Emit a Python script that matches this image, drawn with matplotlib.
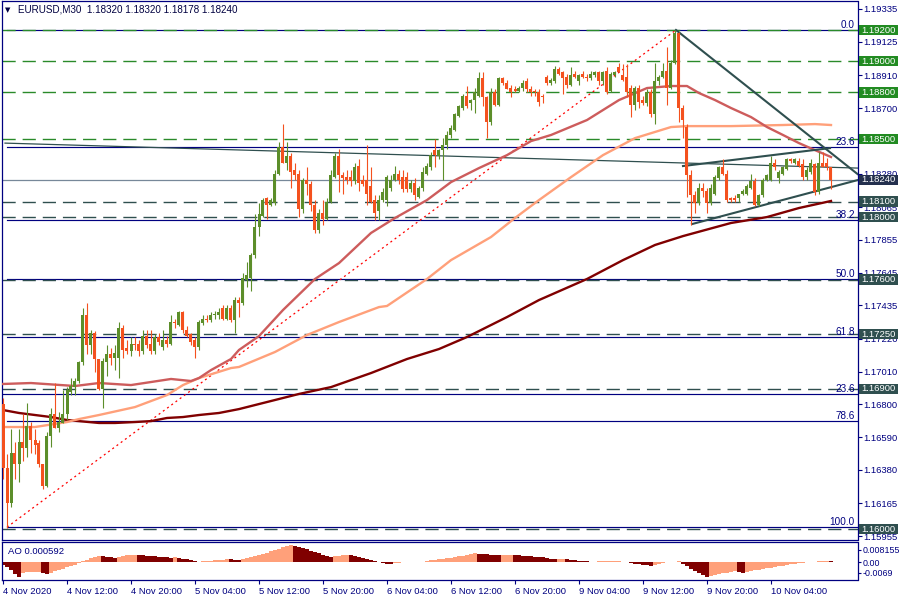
import matplotlib
matplotlib.use("Agg")
import matplotlib.pyplot as plt
import matplotlib.patches as mpatches
from matplotlib.transforms import blended_transform_factory
import numpy as np

plt.rcParams['font.family'] = ['Liberation Sans', 'DejaVu Sans']

# ---------------- data ----------------
title = "EURUSD,M30  1.18320 1.18320 1.18178 1.18240"

opens = [1.1680,1.1639,1.1617,1.1649,1.1642,1.1656,1.1652,1.1666,1.1657,1.1655,
1.1642,1.1628,1.1660,1.1674,1.1665,1.1668,1.1674,1.1688,1.1691,1.1695,
1.1707,1.1737,1.1718,1.1726,1.1709,1.1690,1.1707,1.1712,1.1710,1.1710,
1.1729,1.1716,1.1714,1.1719,1.1719,1.1714,1.1724,1.1719,1.1714,1.1723,
1.1717,1.1721,1.1719,1.1733,1.1731,1.1739,1.1728,1.1725,1.1721,1.1717,
1.1732,1.1735,1.1734,1.1737,1.1737,1.1742,1.1735,1.1742,1.1734,1.1747,
1.1745,1.1760,1.1761,1.1776,1.1794,1.1801,1.1812,1.1808,1.1809,1.1828,
1.1845,1.1835,1.1839,1.1830,1.1828,1.1805,1.1824,1.1821,1.1808,1.1792,
1.1803,1.1799,1.1810,1.1826,1.1839,1.1827,1.1826,1.1826,1.1823,1.1833,
1.1824,1.1824,1.1820,1.1811,1.1804,1.1811,1.1811,1.1819,1.1824,1.1828,
1.1826,1.1826,1.1818,1.1822,1.1813,1.1819,1.1828,1.1832,1.1843,1.1839,
1.1843,1.1846,1.1853,1.1856,1.1865,1.1870,1.1878,1.1873,1.1875,1.1878,
1.1889,1.1877,1.1861,1.1880,1.1872,1.1889,1.1886,1.1883,1.1882,1.1881,
1.1883,1.1887,1.1882,1.1881,1.1880,1.1878,1.1890,1.1886,1.1887,1.1895,
1.1893,1.1890,1.1885,1.1892,1.1887,1.1892,1.1890,1.1889,1.1891,1.1893,
1.1887,1.1894,1.1881,1.1891,1.1896,1.1891,1.1890,1.1883,1.1872,1.1883,
1.1875,1.1873,1.1880,1.1866,1.1887,1.1890,1.1894,1.1883,1.1899,1.1918,
1.1870,1.1858,1.1827,1.1814,1.1809,1.1819,1.1817,1.1809,1.1815,1.1825,
1.1832,1.1828,1.1812,1.1812,1.1812,1.1815,1.1815,1.1819,1.1823,1.1808,
1.1814,1.1824,1.1824,1.1835,1.1825,1.1828,1.1831,1.1837,1.1835,1.1836,
1.1834,1.1826,1.1829,1.1834,1.1816,1.1835,1.1835,1.18320]

highs = [1.1684,1.1648,1.1664,1.1656,1.1664,1.1674,1.1681,1.1669,1.1664,1.1657,
1.1642,1.1662,1.1678,1.1694,1.1675,1.1689,1.1691,1.1697,1.1697,1.1708,
1.1742,1.1745,1.1728,1.1727,1.1709,1.1710,1.1718,1.1716,1.1718,1.1733,
1.1731,1.1721,1.1723,1.1723,1.1721,1.1728,1.1728,1.1728,1.1725,1.1726,
1.1728,1.1724,1.1737,1.1735,1.1740,1.1740,1.1730,1.1726,1.1723,1.1734,
1.1737,1.1737,1.1739,1.1740,1.1742,1.1744,1.1744,1.1744,1.1749,1.1749,
1.1764,1.1771,1.1777,1.1802,1.1809,1.1812,1.1813,1.1812,1.1830,1.1848,
1.1860,1.1848,1.1841,1.1835,1.1830,1.1825,1.1832,1.1823,1.1811,1.1805,
1.1811,1.1812,1.1830,1.1841,1.1844,1.1829,1.1830,1.1830,1.1835,1.1837,
1.1827,1.1846,1.1832,1.1814,1.1814,1.1819,1.1827,1.1827,1.1833,1.1830,
1.1830,1.1829,1.1824,1.1825,1.1820,1.1832,1.1835,1.1842,1.1850,1.1844,
1.1851,1.1855,1.1859,1.1867,1.1872,1.1879,1.1884,1.1876,1.1883,1.1893,
1.1893,1.1878,1.1883,1.1882,1.1890,1.1890,1.1888,1.1885,1.1884,1.1884,
1.1888,1.1889,1.1884,1.1882,1.1882,1.1879,1.1891,1.1889,1.1897,1.1896,
1.1894,1.1892,1.1896,1.1894,1.1892,1.1894,1.1892,1.1894,1.1894,1.1894,
1.1894,1.1896,1.1893,1.1894,1.1899,1.1898,1.1898,1.1885,1.1884,1.1885,
1.1878,1.1882,1.1882,1.1899,1.1891,1.1899,1.1909,1.1901,1.1920,1.1919,
1.1872,1.1860,1.1830,1.1817,1.1822,1.1822,1.1819,1.1821,1.1827,1.1833,
1.1837,1.1830,1.1813,1.1814,1.1815,1.1818,1.1821,1.1828,1.1825,1.1815,
1.1825,1.1828,1.1839,1.1837,1.1830,1.1833,1.1838,1.1838,1.1838,1.1838,
1.1837,1.1832,1.1837,1.1835,1.1842,1.1842,1.1838,1.18320]

lows = [1.1632,1.1601,1.1614,1.1632,1.1630,1.1644,1.1646,1.1649,1.1648,1.1640,
1.1626,1.1627,1.1653,1.1665,1.1662,1.1668,1.1670,1.1686,1.1686,1.1694,
1.1705,1.1712,1.1712,1.1701,1.1689,1.1678,1.1698,1.1705,1.1702,1.1697,
1.1710,1.1712,1.1711,1.1715,1.1711,1.1712,1.1716,1.1712,1.1712,1.1718,
1.1715,1.1717,1.1718,1.1729,1.1730,1.1726,1.1723,1.1718,1.1710,1.1715,
1.1731,1.1733,1.1733,1.1735,1.1735,1.1734,1.1734,1.1733,1.1726,1.1736,
1.1744,1.1755,1.1753,1.1774,1.1788,1.1800,1.1799,1.1807,1.1808,1.1827,
1.1835,1.1830,1.1819,1.1824,1.1800,1.1803,1.1814,1.1804,1.1790,1.1790,
1.1795,1.1798,1.1809,1.1825,1.1816,1.1815,1.1821,1.1820,1.1821,1.1817,
1.1820,1.1808,1.1809,1.1798,1.1798,1.1810,1.1807,1.1817,1.1823,1.1821,
1.1816,1.1816,1.1816,1.1811,1.1812,1.1817,1.1827,1.1830,1.1832,1.1837,
1.1824,1.1844,1.1851,1.1855,1.1864,1.1869,1.1870,1.1869,1.1867,1.1877,
1.1871,1.1851,1.1859,1.1871,1.1871,1.1885,1.1882,1.1877,1.1880,1.1880,
1.1881,1.1880,1.1878,1.1878,1.1871,1.1873,1.1885,1.1885,1.1886,1.1891,
1.1879,1.1883,1.1884,1.1889,1.1885,1.1889,1.1887,1.1888,1.1890,1.1885,
1.1885,1.1879,1.1880,1.1890,1.1893,1.1887,1.1877,1.1864,1.1869,1.1870,
1.1872,1.1871,1.1864,1.1860,1.1885,1.1889,1.1872,1.1882,1.1898,1.1861,
1.1851,1.1813,1.1795,1.1803,1.1808,1.1813,1.1803,1.1808,1.1814,1.1824,
1.1827,1.1810,1.1810,1.1810,1.1810,1.1814,1.1814,1.1818,1.1807,1.1807,
1.1813,1.1823,1.1823,1.1830,1.1822,1.1827,1.1830,1.1835,1.1834,1.1832,
1.1824,1.1824,1.1828,1.1814,1.1815,1.1832,1.1830,1.18178]

closes = [1.1639,1.1617,1.1649,1.1642,1.1656,1.1652,1.1666,1.1657,1.1654,1.1642,
1.1628,1.1660,1.1674,1.1665,1.1669,1.1674,1.1689,1.1692,1.1695,1.1707,
1.1737,1.1718,1.1726,1.1709,1.1690,1.1708,1.1712,1.1710,1.1713,1.1729,
1.1715,1.1714,1.1719,1.1718,1.1714,1.1724,1.1718,1.1714,1.1723,1.1720,
1.1721,1.1719,1.1733,1.1732,1.1739,1.1728,1.1724,1.1720,1.1717,1.1733,
1.1735,1.1734,1.1737,1.1738,1.1739,1.1735,1.1742,1.1734,1.1747,1.1745,
1.1761,1.1763,1.1776,1.1794,1.1802,1.1811,1.1808,1.1811,1.1828,1.1845,
1.1835,1.1839,1.1829,1.1827,1.1805,1.1824,1.1821,1.1808,1.1792,1.1803,
1.1799,1.1810,1.1827,1.1839,1.1827,1.1825,1.1824,1.1823,1.1832,1.1822,
1.1821,1.1815,1.1810,1.1803,1.1811,1.1816,1.1826,1.1824,1.1828,1.1824,
1.1818,1.1818,1.1822,1.1814,1.1819,1.1829,1.1833,1.1840,1.1840,1.1843,
1.1846,1.1853,1.1857,1.1866,1.1871,1.1878,1.1871,1.1875,1.1880,1.1889,
1.1877,1.1861,1.1880,1.1872,1.1889,1.1886,1.1882,1.1880,1.1881,1.1883,
1.1886,1.1882,1.1880,1.1880,1.1874,1.1877,1.1886,1.1888,1.1895,1.1892,
1.1889,1.1885,1.1891,1.1890,1.1891,1.1890,1.1889,1.1892,1.1893,1.1887,
1.1893,1.1880,1.1892,1.1893,1.1893,1.1888,1.1880,1.1872,1.1883,1.1874,
1.1873,1.1880,1.1866,1.1887,1.1890,1.1894,1.1883,1.1899,1.1918,1.1870,
1.1862,1.1827,1.1814,1.1809,1.1819,1.1817,1.1809,1.1819,1.1826,1.1832,
1.1828,1.1811,1.1811,1.1811,1.1815,1.1817,1.1820,1.1823,1.1808,1.1814,
1.1824,1.1827,1.1835,1.1832,1.1829,1.1832,1.1837,1.1836,1.1837,1.1833,
1.1826,1.1830,1.1835,1.1816,1.1835,1.1832,1.1832,1.18240]

# moving averages (bar index, value)
ma_fast_idx = [0,7,18,24,32,42,47,49,52,57,59,64,70,78,84,92,98,106,112,119,126,132,137,146,154,161,167,171,174,178,182,187,191,195,199,203,207]
ma_fast_val = [1.16931,1.16937,1.16918,1.16937,1.16924,1.16963,1.16950,1.16969,1.17020,1.17091,1.17149,1.17238,1.17405,1.17604,1.17706,1.17899,1.17995,1.18110,1.18225,1.18315,1.18398,1.18488,1.18527,1.18623,1.18751,1.18828,1.18841,1.18841,1.18796,1.18751,1.18700,1.18642,1.18578,1.18527,1.18475,1.18430,1.18386]

ma_mid_idx = [0,8,16,19,24,33,41,45,49,57,59,68,76,84,94,96,106,112,122,128,134,142,150,158,167,171,182,195,203,207]
ma_mid_val = [1.16655,1.16655,1.16687,1.16706,1.16732,1.16783,1.16860,1.16924,1.16969,1.17033,1.17040,1.17136,1.17245,1.17328,1.17424,1.17431,1.17604,1.17725,1.17873,1.17995,1.18110,1.18257,1.18398,1.18507,1.18578,1.18584,1.18584,1.18591,1.18597,1.18591]

ma_slow_idx = [0,4,8,12,16,24,28,33,37,41,45,49,54,59,74,82,92,101,109,116,126,134,146,155,163,170,182,191,199,207]
ma_slow_val = [1.16764,1.16745,1.16732,1.16719,1.16700,1.16681,1.16681,1.16687,1.16693,1.16713,1.16719,1.16732,1.16745,1.16770,1.16867,1.16911,1.17001,1.17091,1.17155,1.17232,1.17360,1.17469,1.17604,1.17725,1.17822,1.17879,1.17963,1.18001,1.18059,1.18104]

# Awesome Oscillator
ao_vals = [-0.00126,-0.00236,-0.00377,-0.00534,-0.00691,-0.00487,-0.00479,-0.00471,-0.00463,-0.00455,
-0.00518,-0.00534,-0.00487,-0.00424,-0.00361,-0.00298,-0.00236,-0.00173,-0.00110,-0.00047,
0.00047,0.00126,0.00204,0.00267,0.00314,0.00298,0.00267,0.00236,0.00204,0.00251,
0.00298,0.00330,0.00345,0.00361,0.00345,0.00330,0.00314,0.00298,0.00283,0.00267,
0.00251,0.00236,0.00220,0.00236,0.00204,0.00173,0.00141,0.00110,0.00063,0.00031,
0.00047,0.00063,0.00079,0.00094,0.00110,0.00126,0.00141,0.00133,0.00126,0.00118,
0.00157,0.00204,0.00251,0.00298,0.00345,0.00408,0.00455,0.00518,0.00581,0.00644,
0.00707,0.00769,0.00816,0.00785,0.00738,0.00675,0.00612,0.00550,0.00487,0.00424,
0.00361,0.00298,0.00251,0.00283,0.00314,0.00330,0.00345,0.00330,0.00298,0.00267,
0.00220,0.00173,0.00126,0.00079,0.00031,-0.00031,-0.00079,-0.00094,-0.00047,-0.00016,
0.00016,0.00031,0.00024,0.00016,0.00008,0.00031,0.00063,0.00094,0.00126,0.00157,
0.00173,0.00188,0.00220,0.00251,0.00283,0.00314,0.00345,0.00377,0.00424,0.00408,
0.00393,0.00377,0.00361,0.00345,0.00338,0.00345,0.00353,0.00361,0.00345,0.00330,
0.00314,0.00298,0.00283,0.00267,0.00251,0.00236,0.00204,0.00173,0.00157,0.00165,
0.00173,0.00141,0.00126,0.00094,0.00079,0.00063,0.00047,0.00031,0.00035,0.00038,
0.00041,0.00044,0.00047,0.00050,0.00053,0.00031,0.00000,-0.00031,-0.00063,-0.00094,
-0.00126,-0.00141,-0.00157,-0.00110,-0.00063,-0.00031,0.00000,0.00016,0.00031,0.00047,
-0.00079,-0.00188,-0.00314,-0.00424,-0.00518,-0.00612,-0.00675,-0.00628,-0.00581,-0.00550,
-0.00518,-0.00487,-0.00455,-0.00424,-0.00471,-0.00487,-0.00440,-0.00408,-0.00377,-0.00345,
-0.00314,-0.00283,-0.00251,-0.00220,-0.00188,-0.00157,-0.00126,-0.00094,-0.00063,-0.00047,
-0.00016,0.00024,0.00019,0.00031,0.00047,0.00055,0.00063,0.000592]

# horizontal support / resistance levels
green_levels = [1.19200, 1.19000, 1.18800, 1.18500]
slate_levels = [1.18100, 1.18000, 1.17600, 1.17250, 1.16900, 1.16000]
current_price = 1.18240

# Fibonacci retracement (0 at the high, 100 at the low) plus extra level
fib_high = 1.19200
fib_low = 1.16013
fib_high_bar = 168.25
fib_low_bar = 1
fib_ratios = [0.0, 23.6, 38.2, 50.0, 61.8, 78.6, 100.0]
extra_fib_label = "23.6"
extra_fib_price = 1.16867

# trend lines: (bar, price) anchors
tl_down = [(168.25, 1.19200), (211.75, 1.18315)]
tl_upper = [(170.0, 1.18328), (206.75, 1.18443)]
tl_lower = [(172.25, 1.17956), (211.75, 1.18225)]
tl_long = [(0.5, 1.18475), (213.6, 1.18315)]

price_ticks = [1.19335,1.19125,1.18910,1.18700,1.18490,1.18280,1.18065,1.17855,
               1.17645,1.17435,1.17220,1.17010,1.16800,1.16590,1.16380,1.16165,1.15955]
time_tick_bars = [0,16,32,48,64,80,96,112,128,144,160,176,192]
time_tick_labels = ['4 Nov 2020','4 Nov 12:00','4 Nov 20:00','5 Nov 04:00','5 Nov 12:00',
                    '5 Nov 20:00','6 Nov 04:00','6 Nov 12:00','6 Nov 20:00','9 Nov 04:00',
                    '9 Nov 12:00','9 Nov 20:00','10 Nov 04:00']
ao_tick_labels = ['0.008155', '0.00', '-0.0069']
ao_label = "AO 0.000592"

# ---------------- style ----------------
NAVY = '#000080'
UP = '#5C8E2A'
DOWN = '#F4511E'
GREEN = '#2A8A2A'
SLATE = '#2F4F4F'
FS = 6.8

W, H = 900, 600
fig = plt.figure(figsize=(9, 6), dpi=100)
fig.patch.set_facecolor('white')

def fx(px):
    return px / W
def fy(py):
    return 1 - py / H

left_px, right_px = 2, 857.5
ax = fig.add_axes([fx(left_px), fy(539.5), fx(right_px - left_px), (539.5 - 1) / H])
ao = fig.add_axes([fx(left_px), fy(580), fx(right_px - left_px), (580 - 542) / H])

n = len(closes)
x = np.arange(n)
xmin, xmax = -0.25, 213.625

for a in (ax, ao):
    a.set_xlim(xmin, xmax)
    for s in a.spines.values():
        s.set_color(NAVY)
        s.set_linewidth(0.9)
    a.set_facecolor('white')

ax.set_ylim(1.15934, 1.19386)

# --- Fibonacci levels (navy solid) ---
rng = fib_high - fib_low
bt = blended_transform_factory(ax.transAxes, ax.transData)
for r in fib_ratios:
    lv = fib_high - r / 100.0 * rng
    ax.plot([fib_low_bar, xmax], [lv, lv], color=NAVY, lw=0.85, zorder=2)
    ax.text(0.997, lv, f"{r:.1f}", transform=bt,
            ha='right', va='bottom', fontsize=FS + 0.4, color=NAVY, zorder=6)
ax.plot([xmin, xmax], [extra_fib_price] * 2, color=NAVY, lw=0.85, zorder=2)
ax.text(0.997, extra_fib_price, extra_fib_label, transform=bt,
        ha='right', va='bottom', fontsize=FS + 0.4, color=NAVY, zorder=6)
# Fib diagonal
ax.plot([fib_low_bar, fib_high_bar], [fib_low, fib_high], color='#FF0000', lw=0.9,
        dashes=(1.6, 2.6), zorder=3)

# --- dashed levels ---
for lv in green_levels:
    ax.axhline(lv, color=GREEN, lw=1.0, dashes=(9.5, 5.0), zorder=2)
for lv in slate_levels:
    ax.axhline(lv, color=SLATE, lw=1.0, dashes=(9.5, 5.0), zorder=2)
ax.axhline(current_price, color='#778899', lw=0.9, zorder=2)

# --- trend lines ---
def extend(p0, p1, to):
    (x0, y0), (x1, y1) = p0, p1
    k = (y1 - y0) / (x1 - x0)
    return [x0, to], [y0, y0 + k * (to - x0)]

xs, ys = extend(*tl_down, xmax)
ax.plot(xs, ys, color=SLATE, lw=1.5, zorder=4)
xs, ys = extend(*tl_lower, xmax)
ax.plot(xs, ys, color=SLATE, lw=1.5, zorder=4)
ax.plot([p[0] for p in tl_upper], [p[1] for p in tl_upper], color=SLATE, lw=1.5, zorder=4)
ax.plot([p[0] for p in tl_long], [p[1] for p in tl_long], color=SLATE, lw=0.9, zorder=2)

# --- moving averages ---
ax.plot(ma_slow_idx, ma_slow_val, color='#800000', lw=1.7, zorder=3)
ax.plot(ma_mid_idx, ma_mid_val, color='#FFA07A', lw=1.7, zorder=3)
ax.plot(ma_fast_idx, ma_fast_val, color='#CD5C5C', lw=1.7, zorder=3)

# --- candles ---
o = np.array(opens); h = np.array(highs); l = np.array(lows); c = np.array(closes)
up = c >= o
cols = np.where(up, UP, DOWN)
ax.vlines(x, l, h, colors=cols, lw=0.8, zorder=5)
body_lo = np.minimum(o, c)
body_h = np.maximum(np.abs(c - o), 0.00002)
ax.bar(x, body_h, bottom=body_lo, width=0.75, color=cols, linewidth=0, zorder=5)

# --- price axis ---
ax.yaxis.tick_right()
ax.set_yticks(price_ticks)
ax.set_yticklabels([f"{t:.5f}" for t in price_ticks])
ax.tick_params(axis='y', direction='out', length=3, width=0.8, color=NAVY,
               labelcolor=NAVY, labelsize=FS, pad=1.5)
ax.set_xticks([])

# price label boxes
box_w = 0.0458
box_h = 0.00033
def price_box(p, fc):
    ax.add_patch(mpatches.Rectangle((1.0018, p - box_h), box_w, 2 * box_h, transform=bt,
                                    facecolor=fc, edgecolor='none', clip_on=False, zorder=20))
    ax.text(1.0018 + box_w / 2, p, f"{p:.5f}", transform=bt, ha='center', va='center',
            color='white', fontsize=FS, clip_on=False, zorder=21)
for lv in green_levels:
    price_box(lv, '#228B22')
for lv in slate_levels:
    price_box(lv, SLATE)
price_box(current_price, '#24304E')

# --- AO panel ---
ao_arr = np.array(ao_vals)
prev = np.concatenate([[np.inf], ao_arr[:-1]])
ao_cols = np.where(ao_arr > prev, '#FFA07A', '#800000')
ao.bar(x, ao_arr, width=1.0, color=ao_cols, linewidth=0)
ao.set_ylim(-0.00834, 0.00956)
ao.yaxis.tick_right()
ao.set_yticks([0.0058, 0.0, -0.00504])
ao.set_yticklabels(ao_tick_labels)
ao.tick_params(axis='y', direction='out', length=2.5, width=0.8, color=NAVY,
               labelcolor=NAVY, labelsize=FS - 0.4, pad=1.0)
ao.set_xticks(time_tick_bars)
ao.set_xticklabels(time_tick_labels, ha='left')
ao.tick_params(axis='x', direction='out', length=3, width=0.8, color=NAVY,
               labelcolor=NAVY, labelsize=FS, pad=2)
ao.text(fx(8 - left_px) / fx(right_px - left_px), 0.75, ao_label, transform=ao.transAxes,
        ha='left', va='center', fontsize=FS, color=NAVY)

# --- title ---
fig.text(fx(5), fy(10), '\u25BC', fontsize=5, color='#000040', va='center', ha='left',
         family='DejaVu Sans')
fig.text(fx(18), fy(10), title, fontsize=FS + 0.3, color='#000040', va='center', ha='left')

fig.savefig('out.png', dpi=100, facecolor='white')
